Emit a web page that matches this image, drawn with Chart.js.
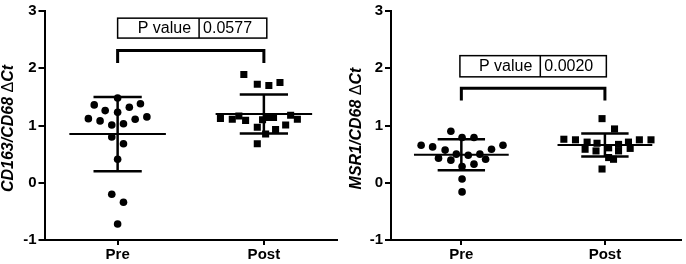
<!DOCTYPE html>
<html><head><meta charset="utf-8">
<script src="https://cdn.jsdelivr.net/npm/chart.js@4"></script>
<style>
html,body{margin:0;padding:0;background:#fff;}
#wrap{position:relative;width:686px;height:264px;background:#fff;}
.cell{position:absolute;top:0;width:343px;height:264px;}
</style></head><body>
<div id="wrap">
<div class="cell" style="left:0"><canvas id="c1" width="343" height="264"></canvas></div>
<div class="cell" style="left:343px"><canvas id="c2" width="343" height="264"></canvas></div>
</div>
<script>
// ---------- DATA ----------
const categories = ['Pre', 'Post'];
const yTickValues = [-1, 0, 1, 2, 3];

// Panel A: CD163/CD68 ΔCt
const aPreValues  = [1.48, 1.36, 1.38, 1.32, 1.26, 1.23, 1.12, 1.08, 1.15, 1.11, 1.01, 1.03, 0.80, 0.68, 0.41, -0.20, -0.34, -0.72];
const aPreJitter  = [0, -0.16, 0.156, 0.08, -0.085, 0, -0.2, -0.12, 0.2, 0.12, -0.04, 0.04, -0.04, 0.04, 0, -0.04, 0.04, 0];
const aPostValues = [1.89, 1.72, 1.70, 1.75, 1.125, 1.11, 1.165, 1.09, 1.14, 1.14, 1.18, 1.11, 0.97, 1.01, 0.93, 0.85, 0.68, 1.10];
const aPostJitter = [-0.137, -0.045, 0.034, 0.11, -0.297, -0.216, -0.171, -0.125, 0.018, 0.066, 0.183, 0.229, -0.045, 0.149, 0.08, 0.012, -0.045, -0.009];
const aMeans = [0.85, 1.20];
const aSDs   = [0.65, 0.34];
const aPValue = '0.0577';
const aTitle = ['CD163/CD68', 'Ct'];

// Panel B: MSR1/CD68 ΔCt
const bPreValues  = [0.90, 0.79, 0.79, 0.655, 0.626, 0.57, 0.50, 0.48, 0.50, 0.585, 0.655, 0.43, 0.395, 0.41, 0.325, 0.285, 0.065, -0.16];
const bPreJitter  = [-0.073, 0.005, 0.088, -0.28, -0.2, -0.113, -0.035, 0.048, 0.129, 0.21, 0.29, -0.159, -0.073, 0.169, 0.088, 0.005, 0.005, 0.005];
const bPostValues = [1.12, 0.94, 0.76, 0.75, 0.71, 0.585, 0.69, 0.556, 0.61, 0.67, 0.556, 0.71, 0.60, 0.75, 0.75, 0.44, 0.41, 0.24];
const bPostJitter = [-0.02, 0.067, -0.286, -0.205, -0.124, -0.138, -0.055, -0.062, 0.026, 0.095, 0.095, 0.164, 0.176, 0.24, 0.321, 0.026, 0.06, -0.02];
const bMeans = [0.49, 0.66];
const bSDs   = [0.27, 0.20];
const bPValue = '0.0020';
const bTitle = ['MSR1/CD68', 'Ct'];

// ---------- DRAWING ----------
const FONT = '"Liberation Sans", Arial, sans-serif';

function toPoints(vals, jit, idx) {
  return vals.map((v, i) => ({ x: idx + jit[i], y: v }));
}

function makePlugin(p) {
  return {
    id: 'annot',
    afterDatasetsDraw(chart) {
      const ctx = chart.ctx, x = chart.scales.x, y = chart.scales.y;
      const line = (x1, y1, x2, y2) => { ctx.beginPath(); ctx.moveTo(x1, y1); ctx.lineTo(x2, y2); ctx.stroke(); };
      ctx.save();
      ctx.strokeStyle = '#000'; ctx.fillStyle = '#000'; ctx.lineCap = 'butt';
      // mean ± SD
      p.means.forEach((m, i) => {
        const cx = x.getPixelForValue(i);
        const hw = x.getPixelForValue(i + 0.33) - cx;
        const cw = x.getPixelForValue(i + 0.165) - cx;
        const ym = y.getPixelForValue(m);
        const yt = y.getPixelForValue(m + p.sds[i]);
        const yb = y.getPixelForValue(m - p.sds[i]);
        ctx.lineWidth = 2; line(cx - hw, ym, cx + hw, ym);
        ctx.lineWidth = 2.5; line(cx, yt, cx, yb);
        line(cx - cw, yt, cx + cw, yt); line(cx - cw, yb, cx + cw, yb);
      });
      // bracket
      const bx1 = x.getPixelForValue(0), bx2 = x.getPixelForValue(1);
      const byTop = y.getPixelForValue(p.bracketTop), byBot = y.getPixelForValue(p.bracketBottom);
      ctx.lineWidth = 3; ctx.lineJoin = 'miter';
      ctx.beginPath(); ctx.moveTo(bx1, byBot); ctx.lineTo(bx1, byTop); ctx.lineTo(bx2, byTop); ctx.lineTo(bx2, byBot); ctx.stroke();
      // p-value table
      const tx1 = x.getPixelForValue(p.table[0]), tx2 = x.getPixelForValue(p.table[1]), txd = x.getPixelForValue(p.table[2]);
      const ty1 = y.getPixelForValue(p.table[3]), ty2 = y.getPixelForValue(p.table[4]);
      ctx.lineWidth = 1.5;
      ctx.strokeRect(tx1, ty1, tx2 - tx1, ty2 - ty1);
      line(txd, ty1, txd, ty2);
      ctx.font = '16px ' + FONT; ctx.textBaseline = 'middle';
      ctx.textAlign = 'right'; ctx.fillText('P value', txd - 8, (ty1 + ty2) / 2 + 0.5);
      ctx.textAlign = 'left'; ctx.fillText(p.pval, txd + 4, (ty1 + ty2) / 2 + 0.5);
      // y-axis title
      const cy = y.getPixelForValue(1) + 3;
      ctx.translate(p.titleX, cy); ctx.rotate(-Math.PI / 2);
      const f1 = 'italic bold 16px ' + FONT;
      const s1 = p.title[0] + ' ', s2 = '\u0394', s3 = p.title[1];
      ctx.font = f1; const w1 = ctx.measureText(s1).width, w3 = ctx.measureText(s3).width;
      ctx.font = '16px ' + FONT; const w2 = ctx.measureText(s2).width;
      let sx = -(w1 + w2 + w3) / 2;
      ctx.textAlign = 'left'; ctx.textBaseline = 'middle';
      ctx.font = f1; ctx.fillText(s1, sx, 0); sx += w1;
      ctx.font = '16px ' + FONT; ctx.fillText(s2, sx, 0); sx += w2;
      ctx.font = f1; ctx.fillText(s3, sx, 0);
      ctx.restore();
    }
  };
}

function makeChart(id, pre, preJ, post, postJ, p, yWidth, padRight, xMin, xMax) {
  return new Chart(document.getElementById(id), {
    type: 'scatter',
    data: {
      datasets: [
        { data: toPoints(pre, preJ, 0), pointStyle: 'circle', pointRadius: 3.8, backgroundColor: '#000', borderColor: '#000', borderWidth: 0 },
        { data: toPoints(post, postJ, 1), pointStyle: 'rect', pointRadius: 5, backgroundColor: '#000', borderColor: '#000', borderWidth: 0 }
      ]
    },
    options: {
      responsive: false, animation: false,
      layout: { padding: { top: 9.5, right: padRight, bottom: 0, left: 0 } },
      plugins: { legend: { display: false }, tooltip: { enabled: false } },
      scales: {
        x: {
          type: 'linear', min: xMin, max: xMax,
          afterBuildTicks: s => { s.ticks = [{ value: 0 }, { value: 1 }]; },
          afterFit: s => { s.height = 24; },
          ticks: { callback: v => categories[v], color: '#000', font: { family: FONT, size: 15, weight: 'bold' }, padding: 1, maxRotation: 0 },
          grid: { display: true, drawOnChartArea: false, drawTicks: true, tickLength: 5, color: '#000', lineWidth: 2 },
          border: { display: true, color: '#000', width: 2 }
        },
        y: {
          min: -1, max: 3,
          afterBuildTicks: s => { s.ticks = yTickValues.map(v => ({ value: v })); },
          afterFit: s => { s.width = yWidth; },
          ticks: { color: '#000', font: { family: FONT, size: 15, weight: 'bold' }, padding: 2 },
          grid: { display: true, drawOnChartArea: false, drawTicks: true, tickLength: 6, color: '#000', lineWidth: 2 },
          border: { display: true, color: '#000', width: 2 }
        }
      }
    },
    plugins: [makePlugin(p)]
  });
}

makeChart('c1', aPreValues, aPreJitter, aPostValues, aPostJitter,
  { means: aMeans, sds: aSDs, pval: aPValue, title: aTitle, titleX: 9,
    bracketTop: 2.31, bracketBottom: 2.09, table: [0, 1.02, 0.557, 2.875, 2.527] },
  44.5, 6, -0.5, 1.5);

makeChart('c2', bPreValues, bPreJitter, bPostValues, bPostJitter,
  { means: bMeans, sds: bSDs, pval: bPValue, title: bTitle, titleX: 14,
    bracketTop: 1.65, bracketBottom: 1.435, table: [-0.01, 1.01, 0.55, 2.22, 1.85] },
  48, 3, -0.49, 1.53);
</script>
</body></html>
